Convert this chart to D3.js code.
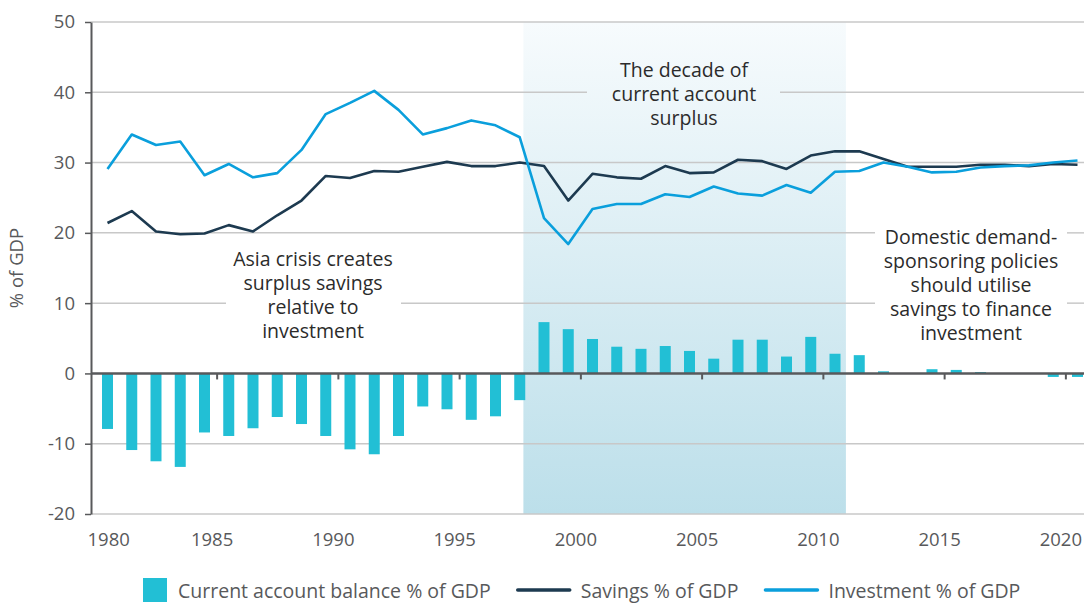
<!DOCTYPE html>
<html>
<head>
<meta charset="utf-8">
<script src="https://cdn.jsdelivr.net/npm/d3@7/dist/d3.min.js"></script>
<style>
  body { margin: 0; background: #fff; }
  svg { display: block; font-family: 'Open Sans', sans-serif; }
</style>
</head>
<body>
<div id="chart"></div>
<script>
// Data
const years = [
  1980, 1981, 1982, 1983, 1984, 1985, 1986, 1987, 1988, 1989,
  1990, 1991, 1992, 1993, 1994, 1995, 1996, 1997, 1998, 1999,
  2000, 2001, 2002, 2003, 2004, 2005, 2006, 2007, 2008, 2009,
  2010, 2011, 2012, 2013, 2014, 2015, 2016, 2017, 2018, 2019, 2020,
];

const currentAccount = [
  -7.9, -10.9, -12.5, -13.3, -8.4, -8.9, -7.8, -6.2, -7.2, -8.9,
  -10.8, -11.5, -8.9, -4.7, -5.1, -6.6, -6.1, -3.8, 7.3, 6.3,
  4.9, 3.8, 3.5, 3.9, 3.2, 2.1, 4.8, 4.8, 2.4, 5.2,
  2.8, 2.6, 0.3, 0, 0.6, 0.5, 0.2, 0, 0, -0.5, -0.5,
];

const savings = [
  21.4, 23.1, 20.2, 19.8, 19.9, 21.1, 20.2, 22.5, 24.6, 28.1,
  27.8, 28.8, 28.7, 29.4, 30.1, 29.5, 29.5, 30.0, 29.5, 24.6,
  28.4, 27.9, 27.7, 29.5, 28.5, 28.6, 30.4, 30.2, 29.1, 31.0,
  31.6, 31.6, 30.5, 29.4, 29.4, 29.4, 29.7, 29.7, 29.5, 29.8, 29.7,
];

const investment = [
  29.1, 34.0, 32.5, 33.0, 28.2, 29.8, 27.9, 28.5, 31.8, 36.9,
  38.5, 40.2, 37.5, 34.0, 34.9, 36.0, 35.3, 33.6, 22.1, 18.4,
  23.4, 24.1, 24.1, 25.5, 25.1, 26.6, 25.6, 25.3, 26.8, 25.7,
  28.7, 28.8, 30.0, 29.4, 28.6, 28.7, 29.3, 29.5, 29.6, 30.0, 30.3,
];

const yTicks = [-20, -10, 0, 10, 20, 30, 40, 50];
const xTicks = [1980, 1985, 1990, 1995, 2000, 2005, 2010, 2015, 2020];

const legendLabels = ['Current account balance % of GDP', 'Savings % of GDP', 'Investment % of GDP'];

const annotations = [
  { lines: ['The decade of', 'current account', 'surplus'], cx: 684, y: 77, gap: [587, 780, 55, 130] },
  { lines: ['Asia crisis creates', 'surplus savings', 'relative to', 'investment'], cx: 313, y: 266, gap: [226, 401, 245, 345] },
  { lines: ['Domestic demand-', 'sponsoring policies', 'should utilise', 'savings to finance', 'investment'], cx: 971, y: 244, gap: [875, 1067, 222, 350] },
];

// shaded "decade" span, in years
const shadeFrom = 1997.15;
const shadeTo = 2010.45;

const colors = {
  bar: '#22bfd5',
  savings: '#1d3a50',
  investment: '#0a9fdc',
  axis: '#58595b',
  grid: '#c8c8c8',
  text: '#2b2b2b',
  label: '#58595b',
};

const width = 1084;
const height = 604;
const axisX = 91;

const svg = d3.select('#chart').append('svg')
  .attr('width', width)
  .attr('height', height);

const x = d3.scaleLinear().domain([1980, 2020]).range([107.5, 1077.5]);
// tick marks sit at the left edge of each year: xEdge(v) = x(v - 0.5)
const xEdge = x.copy().domain([1980.5, 2020.5]);
const y = d3.scaleLinear().domain([-20, 50]).range([514, 22]);

// gradient for the shaded decade
const grad = svg.append('defs').append('linearGradient')
  .attr('id', 'shade')
  .attr('x1', 0).attr('y1', 0).attr('x2', 0).attr('y2', 1);
grad.append('stop').attr('offset', '0%').attr('stop-color', '#f7fbfd');
grad.append('stop').attr('offset', '100%').attr('stop-color', '#bcdfea');

svg.append('rect')
  .attr('x', x(shadeFrom))
  .attr('y', y(50))
  .attr('width', x(shadeTo) - x(shadeFrom))
  .attr('height', y(-20) - y(50))
  .attr('fill', 'url(#shade)');

// gridlines, broken where an annotation sits
const grid = svg.append('g');
yTicks.filter((v) => v !== 0).forEach((v) => {
  const gy = y(v);
  const gaps = annotations
    .filter((a) => gy > a.gap[2] && gy < a.gap[3])
    .map((a) => [a.gap[0], a.gap[1]])
    .sort((a, b) => a[0] - b[0]);
  let start = axisX;
  gaps.forEach(([g0, g1]) => {
    grid.append('line')
      .attr('x1', start).attr('x2', g0)
      .attr('y1', gy).attr('y2', gy)
      .attr('stroke', colors.grid).attr('stroke-width', 1.5);
    start = g1;
  });
  grid.append('line')
    .attr('x1', start).attr('x2', width)
    .attr('y1', gy).attr('y2', gy)
    .attr('stroke', colors.grid).attr('stroke-width', 1.5);
});

// bars
const barW = 11;
svg.append('g')
  .selectAll('rect')
  .data(years.map((yr, i) => ({ yr, v: currentAccount[i] })).filter((d) => d.v !== 0))
  .join('rect')
  .attr('x', (d) => x(d.yr) - barW / 2)
  .attr('y', (d) => y(Math.max(0, d.v)))
  .attr('width', barW)
  .attr('height', (d) => Math.abs(y(d.v) - y(0)))
  .attr('fill', colors.bar);

// zero line with year ticks
const zeroAxis = svg.append('g')
  .attr('transform', `translate(0,${y(0)})`)
  .call(d3.axisBottom(xEdge)
    .tickValues(xTicks.slice(1))
    .tickSize(6)
    .tickSizeOuter(0)
    .tickFormat(''));
zeroAxis.select('.domain').remove();
zeroAxis.selectAll('.tick line').attr('stroke', colors.axis).attr('stroke-width', 2);
zeroAxis.append('line')
  .attr('x1', axisX).attr('x2', width)
  .attr('stroke', colors.axis).attr('stroke-width', 2.5);

// year labels along the bottom
const xLabels = svg.append('g')
  .attr('transform', `translate(0,${y(-20)})`)
  .call(d3.axisBottom(xEdge)
    .tickValues(xTicks)
    .tickSize(0)
    .tickPadding(0)
    .tickFormat((d) => `${d}`));
xLabels.select('.domain').remove();
xLabels.selectAll('.tick text')
  .attr('y', 32)
  .attr('dy', 0)
  .attr('dx', -5)
  .attr('fill', colors.label)
  .attr('font-size', '18.5px')
  .attr('font-family', 'Open Sans, sans-serif');
// first label does not hang left of the axis
xLabels.selectAll('.tick text')
  .filter((d) => d === 1980)
  .attr('text-anchor', 'start')
  .attr('dx', 87 - xEdge(1980));

// y axis
const yAxis = svg.append('g')
  .attr('transform', `translate(${axisX},0)`)
  .call(d3.axisLeft(y)
    .tickValues(yTicks)
    .tickSize(6)
    .tickSizeOuter(0)
    .tickPadding(10)
    .tickFormat((d) => `${d}`));
yAxis.select('.domain').attr('stroke', colors.axis).attr('stroke-width', 2);
yAxis.selectAll('.tick line').attr('stroke', colors.axis).attr('stroke-width', 1.5);
yAxis.selectAll('.tick text')
  .attr('fill', colors.label)
  .attr('font-size', '18.5px')
  .attr('font-family', 'Open Sans, sans-serif');

svg.append('text')
  .attr('transform', `translate(23,${y(15)}) rotate(-90)`)
  .attr('text-anchor', 'middle')
  .attr('fill', colors.label)
  .attr('font-size', '18.5px')
  .text('% of GDP');

// lines
const line = d3.line()
  .x((d, i) => x(years[i]))
  .y((d) => y(d));

svg.append('path')
  .attr('d', line(savings))
  .attr('fill', 'none')
  .attr('stroke', colors.savings)
  .attr('stroke-width', 2.6)
  .attr('stroke-linejoin', 'round');

svg.append('path')
  .attr('d', line(investment))
  .attr('fill', 'none')
  .attr('stroke', colors.investment)
  .attr('stroke-width', 2.6)
  .attr('stroke-linejoin', 'round');

// annotations
annotations.forEach((a) => {
  const t = svg.append('text')
    .attr('text-anchor', 'middle')
    .attr('fill', colors.text)
    .attr('font-size', '19.5px');
  a.lines.forEach((ln, i) => {
    t.append('tspan')
      .attr('x', a.cx)
      .attr('y', a.y + i * 24)
      .text(ln);
  });
});

// legend
const legend = svg.append('g').attr('transform', 'translate(143,590)');
let lx = 0;
legendLabels.forEach((label, i) => {
  if (i === 0) {
    legend.append('rect')
      .attr('x', lx).attr('y', -12)
      .attr('width', 24).attr('height', 24)
      .attr('fill', colors.bar);
    lx += 35;
  } else {
    legend.append('line')
      .attr('x1', lx).attr('x2', lx + 52)
      .attr('stroke', i === 1 ? colors.savings : colors.investment)
      .attr('stroke-width', 3.5)
      .attr('stroke-linecap', 'round');
    lx += 63;
  }
  const txt = legend.append('text')
    .attr('x', lx)
    .attr('y', 8)
    .attr('fill', colors.label)
    .attr('font-size', '19.5px')
    .text(label);
  lx += txt.node().getComputedTextLength() + 27;
});
</script>
</body>
</html>
